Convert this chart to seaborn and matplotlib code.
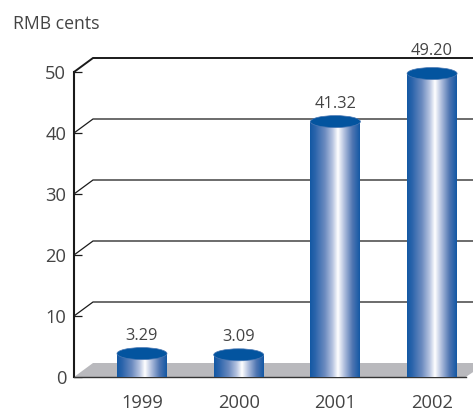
import numpy as np
import pandas as pd
import matplotlib
matplotlib.use("Agg")
import matplotlib.pyplot as plt
from matplotlib.colors import LinearSegmentedColormap
from matplotlib.patches import Ellipse, Polygon
import seaborn as sns

years = ["1999", "2000", "2001", "2002"]
values = [3.29, 3.09, 41.32, 49.20]
labels = ["3.29", "3.09", "41.32", "49.20"]
y_ticks = [0, 10, 20, 30, 40, 50]
unit = "RMB cents"

sns.set_theme(style="white")
plt.rcParams["font.family"] = ["Open Sans", "DejaVu Sans"]
TXT = "#444444"
LINE = "#1a1a1a"

W, H = 473, 412
fig = plt.figure(figsize=(W / 100, H / 100), dpi=100)
ax = fig.add_axes([74 / W, 1 - 377 / H, (473 - 74) / W, (377 - 72) / H])

df = pd.DataFrame({"year": years, "value": values})
sns.barplot(data=df, x="year", y="value", ax=ax, width=0.517, color="#03549f",
            saturation=1, zorder=3, linewidth=0)

ax.set_xlim(-0.703, 3.423)
ax.set_ylim(0, 50)
ax.set_autoscale_on(False)
ax.set_xlabel("")
ax.set_ylabel("")

# 3D wall / floor
dx, dy = 19 / 96.7, 14 / 6.1
x0, x1 = ax.get_xlim()
ax.add_patch(Polygon([(x0, 0), (x0 + dx, dy), (x1, dy), (x1, 0.8), (x1 - 0.075, 0)],
                     closed=True, fc="#b9b9bd", ec="none", zorder=1, clip_on=False))
for t in y_ticks[1:]:
    lw = 1.4 if t == y_ticks[-1] else 0.9
    ax.plot([x0, x0 + dx, x1], [t, t + dy, t + dy], color=LINE, lw=lw, zorder=2,
            clip_on=False, solid_joinstyle="miter")

# cylinders
cmap = LinearSegmentedColormap.from_list(
    "cyl", [(0, "#1358a4"), (0.1, "#2a64ab"), (0.3, "#6d8cc0"), (0.45, "#b5c3e0"),
            (0.56, "#ffffff"), (0.7, "#a9b9da"), (0.85, "#5076b2"), (1, "#1358a4")])
grad = np.linspace(0, 1, 256).reshape(1, -1)
top_off = 0.55
cap_h = 12 / 6.1
for i, (bar, v, lab) in enumerate(zip(ax.patches, values, labels)):
    l, w = bar.get_x(), bar.get_width()
    ax.imshow(grad, cmap=cmap, aspect="auto", extent=(l, l + w, 0, v + top_off),
              zorder=4, clip_on=False)
    ax.add_patch(Ellipse((l + w / 2, v + top_off), w, cap_h, fc="#03549f",
                         ec="#4a78b4", lw=0.5, zorder=5, clip_on=False))
    raise_pt = 15.9 if i == len(values) - 1 else 13.0
    ax.annotate(lab, (l + w / 2, v + top_off), xytext=(0, raise_pt), textcoords="offset points",
                ha="center", va="center", fontsize=11.8, color=TXT, zorder=6)
ax.set_xlim(x0, x1)
ax.set_ylim(0, 50)

ax.set_yticks(y_ticks)
ax.tick_params(axis="y", direction="in", length=5.8, width=0.9, color=LINE, pad=5.5,
               labelsize=13.2, labelcolor=TXT, left=True)
ax.tick_params(axis="x", length=0, pad=12.5, labelsize=13.2, labelcolor=TXT)

for s in ["top", "right"]:
    ax.spines[s].set_visible(False)
ax.spines["left"].set_color(LINE)
ax.spines["left"].set_linewidth(1.5)
ax.spines["bottom"].set_color("#333333")
ax.spines["bottom"].set_linewidth(1.0)
ax.spines["bottom"].set_bounds(x0, x1 - 0.075)
for s in ax.spines.values():
    s.set_zorder(3)

fig.text(13 / W, 1 - 24 / H, unit, fontsize=12.7, color=TXT, ha="left", va="center")

fig.savefig("out.png", dpi=100)
